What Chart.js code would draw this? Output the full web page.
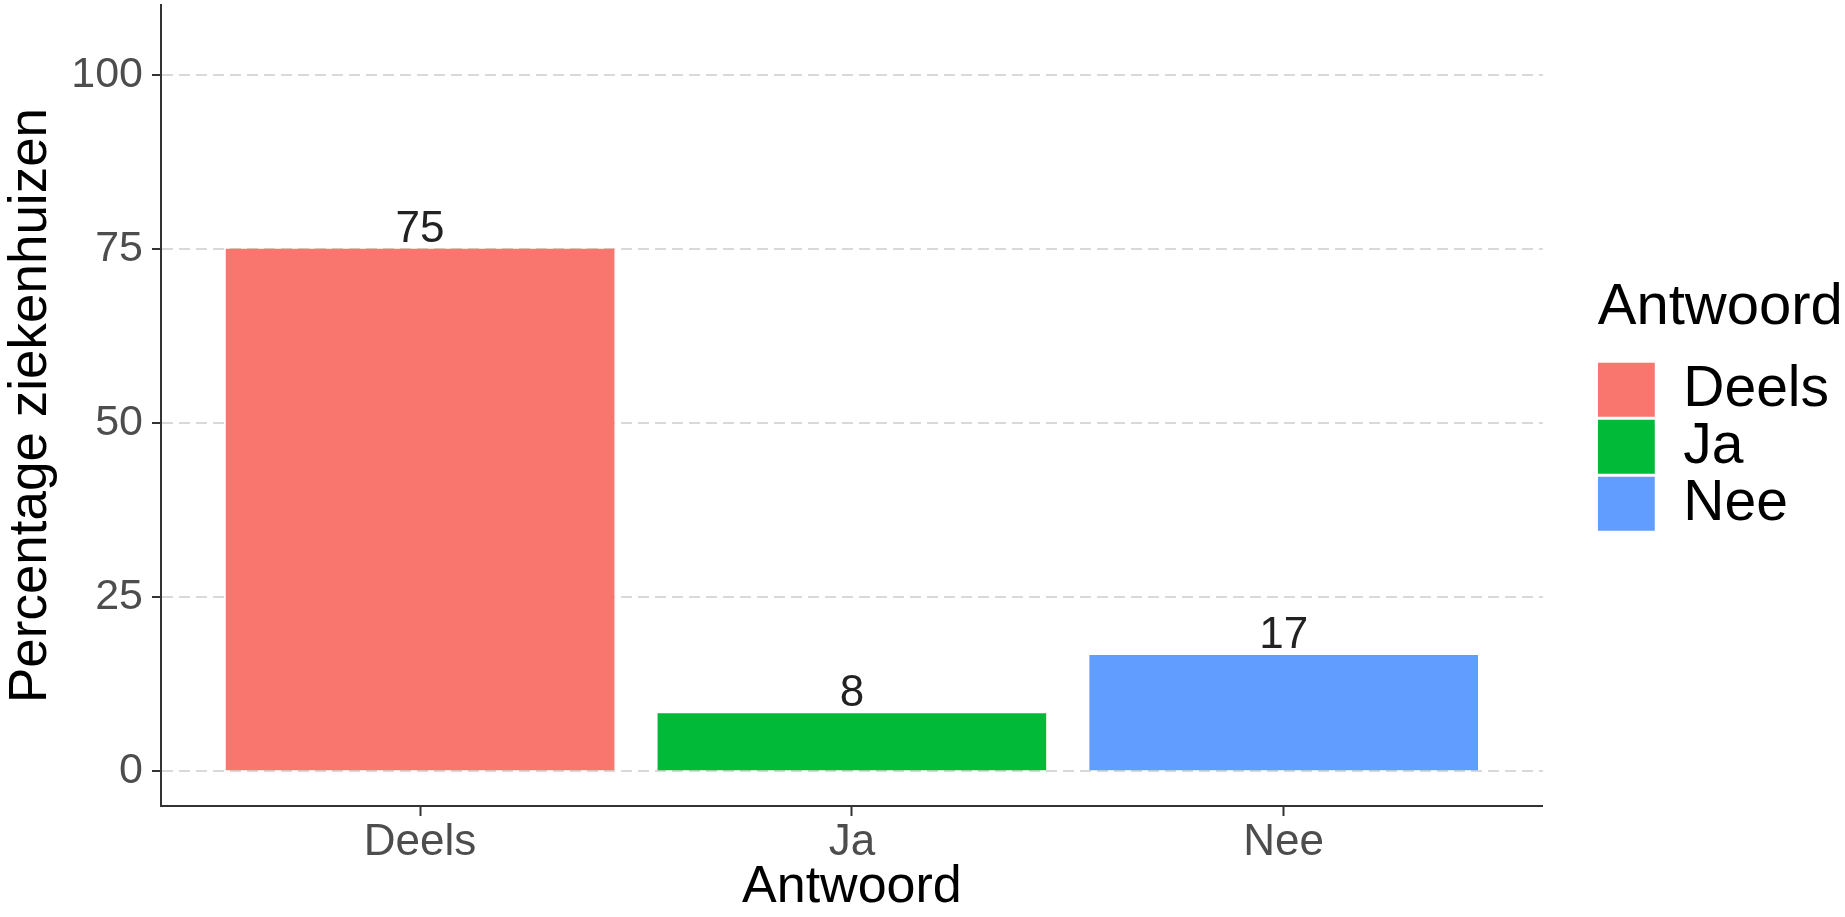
<!DOCTYPE html>
<html>
<head>
<meta charset="utf-8">
<script src="https://cdn.jsdelivr.net/npm/chart.js@4/dist/chart.umd.min.js"></script>
<style>
  html, body { margin: 0; padding: 0; background: #fff; }
  canvas { display: block; }
</style>
</head>
<body>
<canvas id="antwoordChart" width="1845" height="917"></canvas>
<script>
var categories = ["Deels", "Ja", "Nee"];
var percentages = [75, 8.33, 16.67];
var barColors = ["#F8766D", "#00BA38", "#619CFF"];
var yTicks = [0, 25, 50, 75, 100];

var fontFamily = "Arial, 'Liberation Sans', sans-serif";

// labels on top of the bars (rounded like geom_text)
var barLabelPlugin = {
  id: "barLabels",
  afterDatasetsDraw: function(chart) {
    var ctx = chart.ctx;
    ctx.save();
    ctx.font = "44px " + fontFamily;
    ctx.fillStyle = "#222";
    ctx.textAlign = "center";
    ctx.textBaseline = "alphabetic";
    chart.data.datasets.forEach(function(ds, i) {
      var meta = chart.getDatasetMeta(i);
      meta.data.forEach(function(bar, j) {
        ctx.fillText(Math.round(ds.data[j].y), bar.x, bar.y - 7);
      });
    });
    ctx.restore();
  }
};

var datasets = [];
for (var i = 0; i < categories.length; i++) {
  datasets.push({
    label: categories[i],
    data: [{ x: i + 1, y: percentages[i] }],
    backgroundColor: barColors[i],
    borderWidth: 0,
    grouped: false,
    barPercentage: 0.9,
    categoryPercentage: 1
  });
}

var ctx = document.getElementById("antwoordChart").getContext("2d");
var chart = new Chart(ctx, {
  type: "bar",
  data: { datasets: datasets },
  plugins: [barLabelPlugin],
  options: {
    responsive: false,
    animation: false,
    layout: { padding: { top: 5, right: 6, bottom: 0, left: 0 } },
    plugins: {
      tooltip: { enabled: false },
      legend: {
        position: "right",
        align: "center",
        fullSize: false,
        title: {
          display: true,
          text: "Antwoord",
          position: "start",
          color: "#000",
          font: { family: fontFamily, size: 58 },
          padding: { top: 0, bottom: 13 }
        },
        labels: {
          boxWidth: 57,
          boxHeight: 54,
          padding: 0,
          color: "#000",
          font: { family: fontFamily, size: 57 }
        }
      }
    },
    scales: {
      x: {
        type: "linear",
        min: 0.4,
        max: 3.6,
        offset: false,
        afterBuildTicks: function(scale) {
          scale.ticks = categories.map(function(c, i) { return { value: i + 1 }; });
        },
        afterFit: function(scale) {
          scale.height = 111;
          scale.paddingLeft = 0;
          scale.paddingRight = 0;
        },
        grid: {
          display: true,
          offset: false,
          drawOnChartArea: false,
          drawTicks: true,
          tickLength: 10,
          tickColor: "#333",
          tickWidth: 2
        },
        border: { display: true, color: "#333", width: 2 },
        ticks: {
          padding: 0,
          color: "#4D4D4D",
          font: { family: fontFamily, size: 44 },
          callback: function(value) { return categories[value - 1]; }
        },
        title: {
          display: true,
          text: "Antwoord",
          color: "#000",
          font: { family: fontFamily, size: 52, lineHeight: 1 },
          padding: { top: 0, bottom: 3 }
        }
      },
      y: {
        min: -5,
        max: 110,
        afterBuildTicks: function(scale) {
          scale.ticks = yTicks.map(function(v) { return { value: v }; });
        },
        afterFit: function(scale) {
          scale.width = 161;
          scale.paddingTop = 0;
          scale.paddingBottom = 0;
        },
        grid: {
          color: "#D9D9D9",
          lineWidth: 2,
          drawTicks: true,
          tickLength: 9,
          tickColor: "#333",
          tickWidth: 2
        },
        border: { display: true, color: "#333", width: 2, dash: [11, 6] },
        ticks: {
          padding: 9,
          color: "#4D4D4D",
          font: { family: fontFamily, size: 43 }
        },
        title: {
          display: true,
          text: "Percentage ziekenhuizen",
          color: "#000",
          font: { family: fontFamily, size: 53 },
          padding: { top: 0, bottom: 0 }
        }
      },
      gap: {
        type: "linear",
        position: "right",
        display: true,
        grid: { display: false },
        border: { display: false },
        ticks: { display: false },
        afterFit: function(scale) {
          scale.width = 55;
          scale.paddingTop = 0;
          scale.paddingBottom = 0;
        }
      }
    }
  }
});
</script>
</body>
</html>
